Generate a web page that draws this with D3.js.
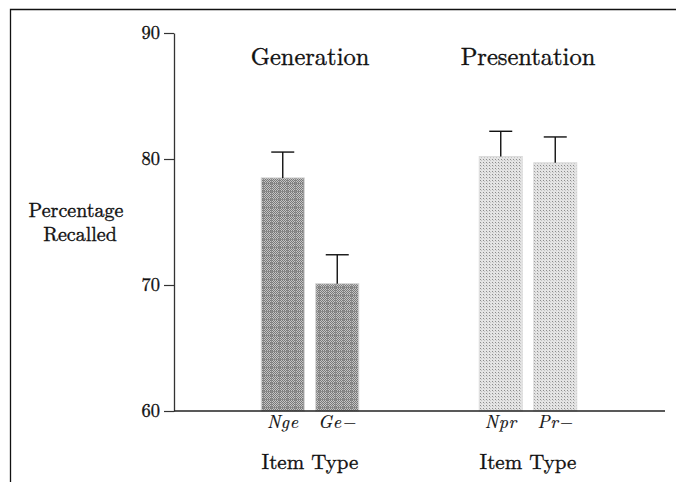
<!DOCTYPE html>
<html>
<head>
<meta charset="utf-8">
<script src="https://cdn.jsdelivr.net/npm/d3@7"></script>
<style>
  body { margin: 0; background: #fff; }
</style>
</head>
<body>
<svg id="chart" width="676" height="482"></svg>
<script>
// data
const groups = ['Generation', 'Presentation'];
const itemTypes = ['Nge', 'Ge\u2212', 'Npr', 'Pr\u2212'];
const itemGroup = ['Generation', 'Generation', 'Presentation', 'Presentation'];
const itemSlot = [0, 1, 0, 1];
const recalled = [78.5, 70.1, 80.2, 79.7];
const errorTop = [80.55, 72.4, 82.2, 81.75];
const yTicks = [60, 70, 80, 90];
const yTitleLines = ['Percentage', 'Recalled'];

const SERIF = "'Latin Modern Roman'";
const INK = '#111';

const svg = d3.select('#chart');

// scanned text looks a bit heavier than the plain font
const ink = sel => sel.style('font-family', SERIF)
    .attr('fill', INK).attr('stroke', INK).attr('stroke-width', 0.35);

// frame (top and left edges only, as in the scan)
svg.append('path')
    .attr('d', 'M10.5,482 V9.5 H676')
    .attr('fill', 'none')
    .attr('stroke', INK)
    .attr('stroke-width', 1.3);

// patterns for the two shadings
const defs = svg.append('defs');
const gen = defs.append('pattern')
    .attr('id', 'genFill').attr('patternUnits', 'userSpaceOnUse')
    .attr('width', 8).attr('height', 8);
gen.append('rect').attr('width', 8).attr('height', 8).attr('fill', '#c4c4c4');
for (let j = 0; j < 8; j++) {
  for (let i = (j % 2); i < 8; i += 2) {
    gen.append('rect').attr('x', i).attr('y', j).attr('width', 1).attr('height', 1).attr('fill', '#787878');
  }
}
gen.append('rect').attr('x', 0).attr('y', 7).attr('width', 8).attr('height', 1).attr('fill', '#8a8a8a');
gen.append('rect').attr('x', 7).attr('y', 0).attr('width', 1).attr('height', 8).attr('fill', '#8a8a8a');

const pres = defs.append('pattern')
    .attr('id', 'presFill').attr('patternUnits', 'userSpaceOnUse')
    .attr('width', 3).attr('height', 3);
pres.append('rect').attr('width', 3).attr('height', 3).attr('fill', '#e4e4e4');
pres.append('rect').attr('width', 1).attr('height', 1).attr('fill', '#8c8c8c');
pres.append('rect').attr('x', 1).attr('y', 1).attr('width', 1).attr('height', 1).attr('fill', '#c4c4c4');

// scales
const y = d3.scaleLinear().domain([60, 90]).range([411, 33]);
const xGroup = d3.scaleBand().domain(groups).range([201, 637]);
const xSlot = d3.scaleBand().domain([0, 1])
    .range([60.25, 157.75]).paddingInner(0.211).paddingOuter(0);
const barX = i => xGroup(itemGroup[i]) + xSlot(itemSlot[i]);
const barMid = i => barX(i) + xSlot.bandwidth() / 2;

const fillFor = { 'Generation': 'url(#genFill)', 'Presentation': 'url(#presFill)' };
const edgeFor = { 'Generation': '#d4d4d4', 'Presentation': '#dcdcdc' };

const rows = itemTypes.map((t, i) => ({ i, t, g: itemGroup[i], v: recalled[i], e: errorTop[i] }));

// bars
svg.selectAll('.bar')
  .data(rows)
  .join('rect')
    .attr('class', 'bar')
    .attr('x', d => barX(d.i))
    .attr('width', xSlot.bandwidth())
    .attr('y', d => y(d.v))
    .attr('height', d => y(60) - y(d.v))
    .attr('fill', d => fillFor[d.g])
    .attr('stroke', d => edgeFor[d.g])
    .attr('stroke-width', 1);

// error bars (upper only)
const err = svg.selectAll('.err').data(rows).join('g').attr('class', 'err')
    .attr('stroke', INK).attr('stroke-width', 1.4);
err.append('line')
    .attr('x1', d => barMid(d.i)).attr('x2', d => barMid(d.i))
    .attr('y1', d => y(d.v)).attr('y2', d => y(d.e));
err.append('line')
    .attr('x1', d => barMid(d.i) - 11.5).attr('x2', d => barMid(d.i) + 11.5)
    .attr('y1', d => y(d.e)).attr('y2', d => y(d.e));

// y axis
const yAxis = d3.axisLeft(y).tickValues(yTicks).tickSize(10).tickPadding(4).tickSizeOuter(0);
const yAxisG = svg.append('g')
    .attr('transform', 'translate(174,0)')
    .call(yAxis)
    .attr('font-family', null);
yAxisG.select('.domain').attr('stroke', '#333').attr('stroke-width', 1.3);
yAxisG.selectAll('.tick line').attr('stroke', '#333').attr('stroke-width', 1.2);
yAxisG.selectAll('.tick text')
    .call(ink)
    .attr('font-size', 18.5);

// x axis line
svg.append('line')
    .attr('x1', 174).attr('x2', 665)
    .attr('y1', y(60)).attr('y2', y(60))
    .attr('stroke', '#222').attr('stroke-width', 1.4);

// item labels
svg.selectAll('.item')
  .data(rows)
  .join('text')
    .attr('class', 'item')
    .attr('x', d => barMid(d.i))
    .attr('y', 428)
    .attr('text-anchor', 'middle')
    .call(ink)
    .attr('stroke-width', 0.2)
    .style('font-style', 'italic')
    .attr('font-size', 18)
    .attr('letter-spacing', 0.6)
    .text(d => d.t);

// group titles
svg.selectAll('.gtitle')
  .data(groups)
  .join('text')
    .attr('class', 'gtitle')
    .attr('x', d => xGroup(d) + xGroup.bandwidth() / 2)
    .attr('y', 65)
    .attr('text-anchor', 'middle')
    .call(ink)
    .attr('font-size', 24.5)
    .text(d => d);

svg.selectAll('.xtitle')
  .data(groups)
  .join('text')
    .attr('class', 'xtitle')
    .attr('x', d => xGroup(d) + xGroup.bandwidth() / 2)
    .attr('y', 469)
    .attr('text-anchor', 'middle')
    .call(ink)
    .attr('font-size', 21)
    .text('Item Type');

// y title, two lines
svg.selectAll('.ytitle')
  .data(yTitleLines)
  .join('text')
    .attr('class', 'ytitle')
    .attr('x', (d, i) => i ? 80 : 76)
    .attr('y', (d, i) => 217 + i * 24)
    .attr('text-anchor', 'middle')
    .call(ink)
    .attr('font-size', 20)
    .text(d => d);
</script>
</body>
</html>
